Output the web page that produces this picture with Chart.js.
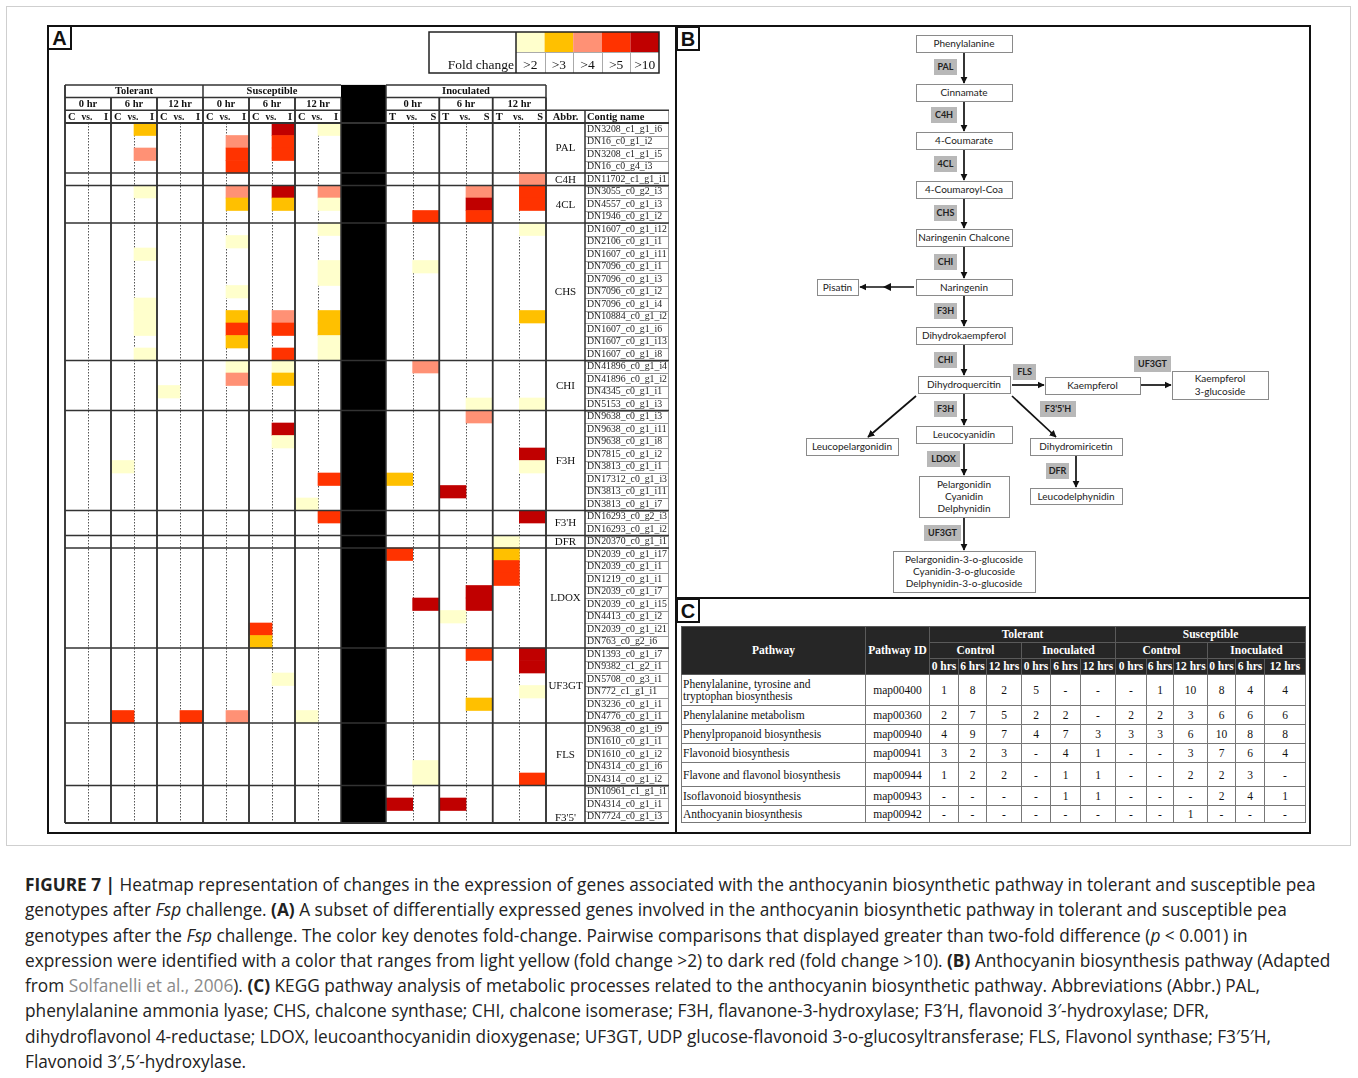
<!DOCTYPE html>
<html>
<head>
<meta charset="utf-8">
<script src="https://cdn.jsdelivr.net/npm/chart.js@4.4.1/dist/chart.umd.min.js"></script>
<style>
  html, body { margin: 0; padding: 0; background: #fff; }
  body { width: 1358px; height: 1078px; position: relative; overflow: hidden; }
  #outer { position: absolute; left: 6px; top: 6px; width: 1345px; height: 840px; border: 1px solid #cfcfcf; box-sizing: border-box; }
  #panels { position: absolute; left: 0; top: 0; }
  #heatWrap { position: absolute; left: 48px; top: 26px; width: 627px; height: 807px; }
  #kegg { position: absolute; left: 681px; top: 626px; border-collapse: collapse; table-layout: fixed;
          font-family: "Liberation Serif", serif; font-size: 11.5px; color: #111; }
  #kegg th { background: #262626; color: #fff; font-weight: bold; border: 1px solid #5a5a5a; padding: 0; height: 15px; line-height: 13px; white-space: nowrap; }
  #kegg td { border: 1px solid #777; padding: 0 1px; text-align: center; line-height: 12px; }
  #kegg td.pw { text-align: left; padding-left: 1px; }
  #caption { position: absolute; left: 25px; top: 872px; font-family: "Open Sans", "Liberation Sans", sans-serif; font-size: 17.25px;
             line-height: 25.3px; color: #222; white-space: nowrap; }
  #caption .src { color: #8a8a8a; }
</style>
</head>
<body>
<div id="outer"></div>

<svg id="panels" width="1358" height="850" xmlns="http://www.w3.org/2000/svg">
  <defs>
    <marker id="ah" viewBox="0 0 10 10" refX="9" refY="5" markerWidth="4.2" markerHeight="4.2" orient="auto">
      <path d="M0,0 L10,5 L0,10 z" fill="#111"/>
    </marker>
  </defs>
  <g id="frames" fill="none" stroke="#111" stroke-width="2">
    <rect x="48" y="26" width="1262" height="807"/>
    <line x1="676" y1="26" x2="676" y2="833"/>
    <line x1="676" y1="598" x2="1310" y2="598"/>
    <rect x="48" y="26" width="23" height="23"/>
    <rect x="677" y="27" width="22" height="23"/>
    <rect x="677" y="599" width="22" height="23"/>
  </g>
  <g font-family="Liberation Sans, Arial, sans-serif" font-weight="bold" font-size="20" fill="#111" text-anchor="middle">
    <text x="59.5" y="45">A</text>
    <text x="688" y="46">B</text>
    <text x="688" y="618">C</text>
  </g>
  <g id="pathway"></g>
</svg>

<div id="heatWrap"><canvas id="heat" width="627" height="807"></canvas></div>

<table id="kegg"></table>

<div id="caption"><b>FIGURE 7 |</b> Heatmap representation of changes in the expression of genes associated with the anthocyanin biosynthetic pathway in tolerant and susceptible pea<br>genotypes after <i>Fsp</i> challenge. <b>(A)</b> A subset of differentially expressed genes involved in the anthocyanin biosynthetic pathway in tolerant and susceptible pea<br>genotypes after the <i>Fsp</i> challenge. The color key denotes fold-change. Pairwise comparisons that displayed greater than two-fold difference (<i>p</i> &lt; 0.001) in<br>expression were identified with a color that ranges from light yellow (fold change &gt;2) to dark red (fold change &gt;10). <b>(B)</b> Anthocyanin biosynthesis pathway (Adapted<br>from <span class="src">Solfanelli et al., 2006</span>). <b>(C)</b> KEGG pathway analysis of metabolic processes related to the anthocyanin biosynthetic pathway. Abbreviations (Abbr.) PAL,<br>phenylalanine ammonia lyase; CHS, chalcone synthase; CHI, chalcone isomerase; F3H, flavanone-3-hydroxylase; F3′H, flavonoid 3′-hydroxylase; DFR,<br>dihydroflavonol 4-reductase; LDOX, leucoanthocyanidin dioxygenase; UF3GT, UDP glucose-flavonoid 3-o-glucosyltransferase; FLS, Flavonol synthase; F3′5′H,<br>Flavonoid 3′,5′-hydroxylase.</div>

<script>
// ---------- Heatmap data ----------
const contigs = [
  'DN3208_c1_g1_i6','DN16_c0_g1_i2','DN3208_c1_g1_i5','DN16_c0_g4_i3',
  'DN11702_c1_g1_i1',
  'DN3055_c0_g2_i3','DN4557_c0_g1_i3','DN1946_c0_g1_i2',
  'DN1607_c0_g1_i12','DN2106_c0_g1_i1','DN1607_c0_g1_i11','DN7096_c0_g1_i1','DN7096_c0_g1_i3',
  'DN7096_c0_g1_i2','DN7096_c0_g1_i4','DN10884_c0_g1_i2','DN1607_c0_g1_i6','DN1607_c0_g1_i13','DN1607_c0_g1_i8',
  'DN41896_c0_g1_i4','DN41896_c0_g1_i2','DN4345_c0_g1_i1','DN5153_c0_g1_i3',
  'DN9638_c0_g1_i3','DN9638_c0_g1_i11','DN9638_c0_g1_i8','DN7815_c0_g1_i2','DN3813_c0_g1_i1',
  'DN17312_c0_g1_i3','DN3813_c0_g1_i11','DN3813_c0_g1_i7',
  'DN16293_c0_g2_i3','DN16293_c0_g1_i2',
  'DN20370_c0_g1_i1',
  'DN2039_c0_g1_i17','DN2039_c0_g1_i1','DN1219_c0_g1_i1','DN2039_c0_g1_i7','DN2039_c0_g1_i15',
  'DN4413_c0_g1_i2','DN2039_c0_g1_i21','DN763_c0_g2_i6',
  'DN1393_c0_g1_i7','DN9382_c1_g2_i1','DN5708_c0_g3_i1','DN772_c1_g1_i1','DN3236_c0_g1_i1','DN4776_c0_g1_i1',
  'DN9638_c0_g1_i9','DN1610_c0_g1_i1','DN1610_c0_g1_i2','DN4314_c0_g1_i6','DN4314_c0_g1_i2',
  'DN10961_c1_g1_i1','DN4314_c0_g1_i1','DN7724_c0_g1_i3'
];
const geneAbbr   = ['PAL','C4H','4CL','CHS','CHI','F3H',"F3'H",'DFR','LDOX','UF3GT','FLS',"F3'5'"];
const geneCounts = [4, 1, 3, 11, 4, 8, 2, 1, 8, 6, 5, 3];

const genotypes = ['Tolerant', 'Susceptible', 'Inoculated'];
const timePoints = ['0 hr', '6 hr', '12 hr'];

const foldKeys   = [2, 3, 4, 5, 10];
const foldLabels = ['>2', '>3', '>4', '>5', '>10'];
const foldColors = ['#FFFFCC', '#FFC000', '#FF9175', '#FF3300', '#C00000'];

// Significant cells of each comparison: [contig row, side, fold change]
const tolerant0hr = [];
const tolerant6hr = [[0,'I',3],[2,'I',4],[5,'I',2],[10,'I',2],[14,'I',2],[15,'I',2],[16,'I',2],[18,'I',2],
                     [27,'C',2],[47,'C',5]];
const tolerant12hr = [[21,'C',2],[47,'I',5]];
const susceptible0hr = [[1,'I',4],[2,'I',5],[3,'I',5],[5,'I',4],[6,'I',3],[9,'I',2],[13,'I',2],[15,'I',3],
                        [16,'I',5],[17,'I',3],[19,'I',2],[20,'I',4],[47,'I',4]];
const susceptible6hr = [[0,'I',10],[1,'I',5],[2,'I',5],[5,'I',10],[6,'I',3],[15,'I',4],[16,'I',5],[18,'I',5],
                        [19,'I',2],[20,'I',3],[24,'I',10],[25,'I',2],[40,'C',5],[41,'C',3],[44,'I',2]];
const susceptible12hr = [[0,'I',2],[5,'I',4],[6,'I',2],[8,'I',2],[11,'I',2],[12,'I',2],[15,'I',3],[16,'I',3],
                         [17,'I',2],[18,'I',2],[28,'I',5],[30,'C',2],[31,'I',5],[47,'C',2]];
const inoculated0hr = [[7,'S',5],[11,'S',2],[19,'S',4],[28,'T',3],[34,'T',5],[38,'S',10],[51,'S',2],[52,'S',2],
                       [54,'T',10]];
const inoculated6hr = [[5,'S',4],[6,'S',10],[7,'S',5],[22,'S',2],[23,'S',4],[29,'T',10],[37,'S',10],[38,'S',10],
                       [39,'T',2],[42,'S',5],[46,'S',3],[54,'T',10]];
const inoculated12hr = [[4,'S',4],[5,'S',5],[6,'S',5],[8,'S',2],[15,'S',3],[22,'S',2],[26,'S',10],[27,'S',2],
                        [31,'S',10],[33,'T',2],[34,'T',3],[35,'T',5],[36,'T',5],[42,'S',10],[43,'S',10],
                        [45,'S',2],[52,'S',5]];

const comparisons = [
  { g: 0, t: 0, sides: ['C','I'], cells: tolerant0hr },
  { g: 0, t: 1, sides: ['C','I'], cells: tolerant6hr },
  { g: 0, t: 2, sides: ['C','I'], cells: tolerant12hr },
  { g: 1, t: 0, sides: ['C','I'], cells: susceptible0hr },
  { g: 1, t: 1, sides: ['C','I'], cells: susceptible6hr },
  { g: 1, t: 2, sides: ['C','I'], cells: susceptible12hr },
  { g: 2, t: 0, sides: ['T','S'], cells: inoculated0hr },
  { g: 2, t: 1, sides: ['T','S'], cells: inoculated6hr },
  { g: 2, t: 2, sides: ['T','S'], cells: inoculated12hr }
];

// ---------- KEGG table data ----------
const keggPathways = ['Phenylalanine, tyrosine and<br>tryptophan biosynthesis','Phenylalanine metabolism',
  'Phenylpropanoid biosynthesis','Flavonoid biosynthesis','Flavone and flavonol biosynthesis',
  'Isoflavonoid biosynthesis','Anthocyanin biosynthesis'];
const keggIds = ['map00400','map00360','map00940','map00941','map00944','map00943','map00942'];
const keggTimes = ['0 hrs','6 hrs','12 hrs'];
const keggCounts = [
  ['1','8','2','5','-','-','-','1','10','8','4','4'],
  ['2','7','5','2','2','-','2','2','3','6','6','6'],
  ['4','9','7','4','7','3','3','3','6','10','8','8'],
  ['3','2','3','-','4','1','-','-','3','7','6','4'],
  ['1','2','2','-','1','1','-','-','2','2','3','-'],
  ['-','-','-','-','1','1','-','-','-','2','4','1'],
  ['-','-','-','-','-','-','-','-','1','-','-','-']
];

// ---------- Heatmap column geometry (x-scale units) ----------
const SUB_W = 23, GAP_W = 45, SUB_W_INOC = 26.67;
const subCols = [];
(function () {
  let acc = 0;
  for (let k = 0; k < 18; k++) {
    const w = k < 12 ? SUB_W : SUB_W_INOC;
    subCols.push([acc, acc + w]);
    acc += w;
    if (k === 11) acc += GAP_W;
  }
})();
const X_MAX = subCols[17][1];

const datasets = [];
comparisons.forEach((cmp, ci) => {
  cmp.sides.forEach((side, si) => {
    const span = subCols[ci * 2 + si];
    const data = [], colors = [];
    contigs.forEach((_, r) => {
      const cell = cmp.cells.find(c => c[0] === r && c[1] === side);
      data.push(cell ? [span[0], span[1]] : null);
      colors.push(cell ? foldColors[foldKeys.indexOf(cell[2])] : 'rgba(0,0,0,0)');
    });
    datasets.push({
      label: genotypes[cmp.g] + ' ' + timePoints[cmp.t] + ' ' + side,
      data, backgroundColor: colors, borderWidth: 0, borderSkipped: false,
      grouped: false, categoryPercentage: 1, barPercentage: 1
    });
  });
});

const HEAD_H = 12.7;
const SERIF = '"Liberation Serif", "Times New Roman", serif';

function hline(ctx, x1, x2, y) { ctx.beginPath(); ctx.moveTo(x1, y); ctx.lineTo(x2, y); ctx.stroke(); }
function vline(ctx, x, y1, y2) { ctx.beginPath(); ctx.moveTo(x, y1); ctx.lineTo(x, y2); ctx.stroke(); }

const heatmapFrame = {
  id: 'heatmapFrame',
  beforeDatasetsDraw(chart) {
    const { ctx, chartArea: { top, bottom }, scales: { x } } = chart;
    ctx.save();
    ctx.strokeStyle = '#555';
    ctx.lineWidth = 1;
    ctx.setLineDash([1.5, 1.5]);
    subCols.forEach((sc, k) => {
      if (k % 2 === 1) vline(ctx, Math.round(x.getPixelForValue(sc[0])) + 0.5, top, bottom);
    });
    ctx.restore();
  },
  afterDraw(chart) {
    const { ctx, chartArea: { top, bottom }, scales: { x, y } } = chart;
    const px = v => x.getPixelForValue(v);
    const rowH = y.getPixelForValue(1) - y.getPixelForValue(0);
    const rowTop = r => y.getPixelForValue(r) - rowH / 2;
    const hTop = top - 3 * HEAD_H;
    const tableL = px(0), tableR = px(X_MAX);
    const abbrL = tableR, abbrR = tableR + 39, nameR = abbrR + 84;
    const blackL = px(subCols[11][1]), blackR = px(subCols[12][0]);
    ctx.save();

    // black separator column
    ctx.fillStyle = '#000';
    ctx.fillRect(blackL, hTop, blackR - blackL, bottom - hTop);

    // contig name cells
    ctx.strokeStyle = '#9a9a9a';
    ctx.lineWidth = 1;
    for (let r = 0; r <= contigs.length; r++) hline(ctx, abbrR, nameR, Math.round(rowTop(r)) + 0.5);
    vline(ctx, nameR - 0.5, top - HEAD_H, bottom);

    // column borders
    ctx.strokeStyle = '#333';
    ctx.lineWidth = 1.5;
    comparisons.forEach((cmp, ci) => {
      const L = px(subCols[ci * 2][0]), R = px(subCols[ci * 2 + 1][1]);
      const yStart = cmp.t === 0 ? hTop : hTop + HEAD_H;
      vline(ctx, L, yStart, bottom);
      vline(ctx, R, hTop + HEAD_H, bottom);
    });
    vline(ctx, tableL, hTop, bottom);
    vline(ctx, tableR, hTop, bottom);
    vline(ctx, abbrR, top - HEAD_H, bottom);

    // header rules
    [[0, 5], [6, 11], [12, 17]].forEach(([a, b]) => {
      const L = px(subCols[a][0]), R = px(subCols[b][1]);
      hline(ctx, L, R, hTop);
      hline(ctx, L, R, hTop + HEAD_H);
      hline(ctx, L, R, hTop + 2 * HEAD_H);
    });
    hline(ctx, abbrL, nameR, top - HEAD_H);
    ctx.lineWidth = 1.8;
    hline(ctx, tableL, nameR, top);
    hline(ctx, tableL, nameR, bottom);

    // gene group separators
    let acc = 0;
    ctx.lineWidth = 1.6;
    geneCounts.forEach((n, gi) => {
      if (gi > 0) hline(ctx, tableL, nameR, rowTop(acc));
      acc += n;
    });

    // header text
    ctx.fillStyle = '#111';
    ctx.textBaseline = 'middle';
    ctx.font = 'bold 10.5px ' + SERIF;
    ctx.textAlign = 'center';
    [[0, 5], [6, 11], [12, 17]].forEach(([a, b], gi) => {
      ctx.fillText(genotypes[gi], (px(subCols[a][0]) + px(subCols[b][1])) / 2, hTop + HEAD_H / 2 + 0.5);
    });
    comparisons.forEach((cmp, ci) => {
      const L = px(subCols[ci * 2][0]), R = px(subCols[ci * 2 + 1][1]);
      ctx.textAlign = 'center';
      ctx.fillText(timePoints[cmp.t], (L + R) / 2, hTop + 1.5 * HEAD_H + 0.5);
      const yy = hTop + 2.5 * HEAD_H + 0.5;
      ctx.textAlign = 'left';
      ctx.fillText(cmp.sides[0], L + 3, yy);
      ctx.textAlign = 'center';
      ctx.font = 'bold 9.5px ' + SERIF;
      ctx.fillText('vs.', (L + R) / 2 - 1, yy);
      ctx.font = 'bold 10.5px ' + SERIF;
      ctx.textAlign = 'right';
      ctx.fillText(cmp.sides[1], R - 3, yy);
    });
    ctx.textAlign = 'center';
    ctx.fillText('Abbr.', (abbrL + abbrR) / 2, top - HEAD_H / 2 + 0.5);
    ctx.textAlign = 'left';
    ctx.fillText('Contig name', abbrR + 2, top - HEAD_H / 2 + 0.5);

    // gene abbreviations
    ctx.font = '11px ' + SERIF;
    ctx.textAlign = 'center';
    acc = 0;
    geneCounts.forEach((n, gi) => {
      const yc = gi === geneCounts.length - 1 ? rowTop(acc + n - 1) + rowH / 2 + 1
                                              : (rowTop(acc) + rowTop(acc + n)) / 2 + 0.5;
      ctx.fillText(geneAbbr[gi], (abbrL + abbrR) / 2, yc);
      acc += n;
    });

    // fold change key
    const lgL = 381, lgT = 6, lgR = 611, lgB = 47, keyL = 468, mid = 26;
    const kw = (lgR - keyL) / foldKeys.length;
    foldColors.forEach((c, i) => { ctx.fillStyle = c; ctx.fillRect(keyL + i * kw, lgT, kw, mid - lgT); });
    ctx.strokeStyle = '#aaa';
    ctx.lineWidth = 1;
    hline(ctx, keyL, lgR, mid + 0.5);
    for (let i = 1; i < foldKeys.length; i++) vline(ctx, Math.round(keyL + i * kw) + 0.5, mid, lgB);
    ctx.strokeStyle = '#222';
    ctx.lineWidth = 1.5;
    ctx.strokeRect(lgL, lgT, lgR - lgL, lgB - lgT);
    vline(ctx, keyL, lgT, lgB);
    ctx.fillStyle = '#111';
    ctx.font = '13.5px ' + SERIF;
    ctx.textBaseline = 'alphabetic';
    ctx.textAlign = 'center';
    foldLabels.forEach((t, i) => ctx.fillText(t, keyL + (i + 0.5) * kw, lgB - 4));
    ctx.textAlign = 'right';
    ctx.fillText('Fold change', keyL - 2, lgB - 4);
    ctx.restore();
  }
};

new Chart(document.getElementById('heat'), {
  type: 'bar',
  data: { labels: contigs, datasets },
  options: {
    indexAxis: 'y',
    responsive: false,
    animation: false,
    events: [],
    layout: { padding: { left: 17, top: 97, right: 0, bottom: 10 } },
    plugins: { legend: { display: false }, tooltip: { enabled: false } },
    scales: {
      x: { type: 'linear', min: 0, max: X_MAX, display: false },
      y: {
        type: 'category', position: 'right', offset: true,
        // hidden tick marks reserve the Abbr. column in front of the contig names
        grid: { display: false, drawTicks: true, tickLength: 41 }, border: { display: false },
        ticks: { autoSkip: false, padding: 0, color: '#222', font: { family: SERIF, size: 9.8 } },
        afterFit(s) { s.width = 129; }
      }
    }
  },
  plugins: [heatmapFrame]
});

// ---------- KEGG table ----------
(function () {
  const t = document.getElementById('kegg');
  const widths = [184, 64, 29, 28, 35, 29, 30, 35, 31, 27, 34, 28, 29, 41];
  let html = '<colgroup>' + widths.map(w => `<col style="width:${w}px">`).join('') + '</colgroup><thead>';
  html += '<tr><th rowspan="3">Pathway</th><th rowspan="3">Pathway ID</th><th colspan="6">Tolerant</th><th colspan="6">Susceptible</th></tr>';
  html += '<tr>' + ['Control','Inoculated','Control','Inoculated'].map(s => `<th colspan="3">${s}</th>`).join('') + '</tr>';
  html += '<tr>' + Array(4).fill(keggTimes.map(s => `<th>${s}</th>`).join('')).join('') + '</tr></thead><tbody>';
  const rowH = [31, 19, 19, 19, 24, 19, 17];
  keggPathways.forEach((p, i) => {
    html += `<tr style="height:${rowH[i]}px"><td class="pw">${p}</td><td>${keggIds[i]}</td>` +
            keggCounts[i].map(v => `<td>${v}</td>`).join('') + '</tr>';
  });
  html += '</tbody>';
  t.style.width = widths.reduce((a, b) => a + b, 0) + 'px';
  t.innerHTML = html;
})();

// ---------- Pathway diagram ----------
(function () {
  const NS = 'http://www.w3.org/2000/svg';
  const g = document.getElementById('pathway');
  function el(name, attrs, text) {
    const e = document.createElementNS(NS, name);
    for (const k in attrs) e.setAttribute(k, attrs[k]);
    if (text !== undefined) e.textContent = text;
    g.appendChild(e);
    return e;
  }
  const nodes = [
    [916, 35, 1012, 52, ['Phenylalanine']],
    [916, 84, 1012, 101, ['Cinnamate']],
    [916, 132, 1012, 149, ['4-Coumarate']],
    [916, 181, 1012, 198, ['4-Coumaroyl-Coa']],
    [916, 229, 1012, 246, ['Naringenin Chalcone']],
    [916, 279, 1012, 295, ['Naringenin']],
    [817, 279, 858, 295, ['Pisatin']],
    [916, 327, 1012, 344, ['Dihydrokaempferol']],
    [918, 376, 1010, 393, ['Dihydroquercitin']],
    [1045, 377, 1140, 394, ['Kaempferol']],
    [1172, 371, 1268, 399, ['Kaempferol', '3-glucoside']],
    [806, 438, 898, 455, ['Leucopelargonidin']],
    [916, 426, 1012, 443, ['Leucocyanidin']],
    [1030, 438, 1122, 455, ['Dihydromiricetin']],
    [1030, 488, 1122, 504, ['Leucodelphynidin']],
    [919, 476, 1009, 517, ['Pelargonidin', 'Cyanidin', 'Delphynidin']],
    [893, 551, 1035, 592, ['Pelargonidin-3-o-glucoside', 'Cyanidin-3-o-glucoside', 'Delphynidin-3-o-glucoside']]
  ];
  const enzymes = [
    [934, 59, 957, 75, 'PAL'], [931, 107, 957, 123, 'C4H'], [934, 156, 957, 172, '4CL'],
    [934, 205, 957, 221, 'CHS'], [934, 254, 957, 270, 'CHI'], [934, 303, 957, 319, 'F3H'],
    [934, 352, 957, 368, 'CHI'], [1013, 364, 1036, 380, 'FLS'], [1134, 356, 1171, 372, 'UF3GT'],
    [934, 401, 957, 417, 'F3H'], [1040, 401, 1076, 417, "F3'5'H"], [927, 451, 960, 467, 'LDOX'],
    [1046, 463, 1069, 479, 'DFR'], [924, 525, 961, 541, 'UF3GT']
  ];
  const arrows = [
    [964, 52, 964, 83], [964, 101, 964, 131], [964, 149, 964, 180], [964, 198, 964, 228],
    [964, 246, 964, 278], [964, 295, 964, 326], [964, 344, 964, 375], [964, 393, 964, 425],
    [964, 443, 964, 475], [964, 517, 964, 550], [1012, 385, 1044, 385], [1141, 385, 1171, 385],
    [914, 287, 860, 287], [916, 396, 868, 437], [1012, 396, 1056, 437], [1076, 455, 1076, 487]
  ];
  arrows.forEach(a => el('line', { x1: a[0], y1: a[1], x2: a[2], y2: a[3], stroke: '#111', 'stroke-width': 1.7, 'marker-end': 'url(#ah)' }));
  el('path', { d: 'M883,287 L891,283 L891,291 z', fill: '#111' });
  nodes.forEach(n => {
    el('rect', { x: n[0] + 0.5, y: n[1] + 0.5, width: n[2] - n[0], height: n[3] - n[1], fill: '#fff', stroke: '#8a8a8a', 'stroke-width': 1 });
    const cx = (n[0] + n[2]) / 2, lines = n[4], lh = 12.3;
    const y0 = (n[1] + n[3]) / 2 - (lines.length - 1) * lh / 2 + 3.6;
    lines.forEach((s, i) => el('text', { x: cx, y: y0 + i * lh, 'text-anchor': 'middle', 'font-family': 'Lato, "Open Sans", sans-serif', 'font-size': 10, fill: '#222' }, s));
  });
  enzymes.forEach(e => {
    el('rect', { x: e[0], y: e[1], width: e[2] - e[0], height: e[3] - e[1], fill: '#b8b8b8' });
    el('text', { x: (e[0] + e[2]) / 2, y: (e[1] + e[3]) / 2 + 3.2, 'text-anchor': 'middle', 'font-family': 'Lato, "Open Sans", sans-serif', 'font-size': 9, 'font-weight': 'bold', fill: '#222' }, e[4]);
  });
})();
</script>
</body>
</html>
